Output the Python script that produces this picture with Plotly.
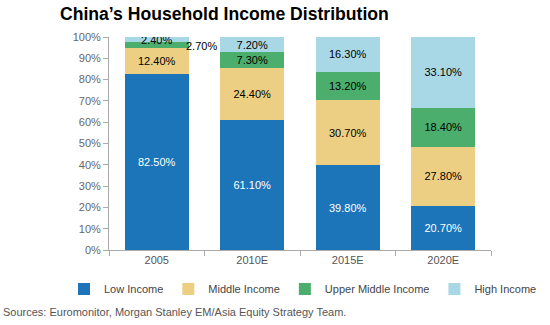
import plotly.graph_objects as go

categories = ["2005", "2010E", "2015E", "2020E"]
low = [82.5, 61.1, 39.8, 20.7]
middle = [12.4, 24.4, 30.7, 27.8]
upper_middle = [2.7, 7.3, 13.2, 18.4]
high = [2.4, 7.2, 16.3, 33.1]

series = [
    ("Low Income", low, "#1B75B8", "white"),
    ("Middle Income", middle, "#EDCF84", "black"),
    ("Upper Middle Income", upper_middle, "#4BAE6C", "black"),
    ("High Income", high, "#A8D8E6", "black"),
]

FONT = "Liberation Sans, Arial"
fig = go.Figure()
for name, vals, color, tcolor in series:
    texts = [f"{v:.2f}%" for v in vals]
    if name == "Upper Middle Income":
        texts[0] = ""
    fig.add_trace(go.Bar(
        x=categories, y=vals, name=name,
        marker=dict(color=color, line=dict(width=0)),
        text=texts, textposition="inside", insidetextanchor="middle",
        textfont=dict(color=tcolor, size=11, family=FONT),
        width=0.67,
    ))

L, R, T, B = 109, 59, 37, 75
plot_w = 550 - L - R
plot_h = 325 - T - B
def px(x):
    return (x - L) / plot_w
def py(y):
    return (325 - B - y) / plot_h

fig.update_layout(
    barmode="stack",
    width=550, height=325,
    margin=dict(l=L, r=R, t=T, b=B, autoexpand=False),
    plot_bgcolor="white", paper_bgcolor="white",
    font=dict(family=FONT, size=11, color="#555555"),
    showlegend=True,
    legend=dict(orientation="h", x=px(64), xanchor="left", y=py(289), yanchor="middle",
                font=dict(size=11, color="#444444"), itemwidth=30, traceorder="normal"),
    uniformtext=dict(mode="show", minsize=11),
)
fig.update_xaxes(showline=True, linecolor="#AAAAAA", ticks="outside", tickcolor="#AAAAAA",
                 ticklen=5, tickson="boundaries", tickfont=dict(size=11, color="#555555"))
fig.update_yaxes(range=[0, 100], dtick=10, ticksuffix="%", showgrid=False, showline=True,
                 linecolor="#AAAAAA", ticks="outside", tickcolor="#AAAAAA", ticklen=5,
                 tickfont=dict(size=11, color="#666666"), zeroline=False)

fig.add_annotation(x=0.47, y=95.9, xref="x", yref="y", text="2.70%",
                   showarrow=False, font=dict(size=11, color="black", family=FONT))
fig.add_annotation(x=px(58), y=py(14), xref="paper", yref="paper",
                   text="<b>China’s Household Income Distribution</b>",
                   showarrow=False, xanchor="left", yanchor="middle",
                   font=dict(size=17.6, color="black", family=FONT))
fig.add_annotation(x=px(1), y=py(312), xref="paper", yref="paper",
                   text="Sources: Euromonitor, Morgan Stanley EM/Asia Equity Strategy Team.",
                   showarrow=False, xanchor="left", yanchor="middle",
                   font=dict(size=11, color="#555555", family=FONT))

fig.write_html("out.html")
